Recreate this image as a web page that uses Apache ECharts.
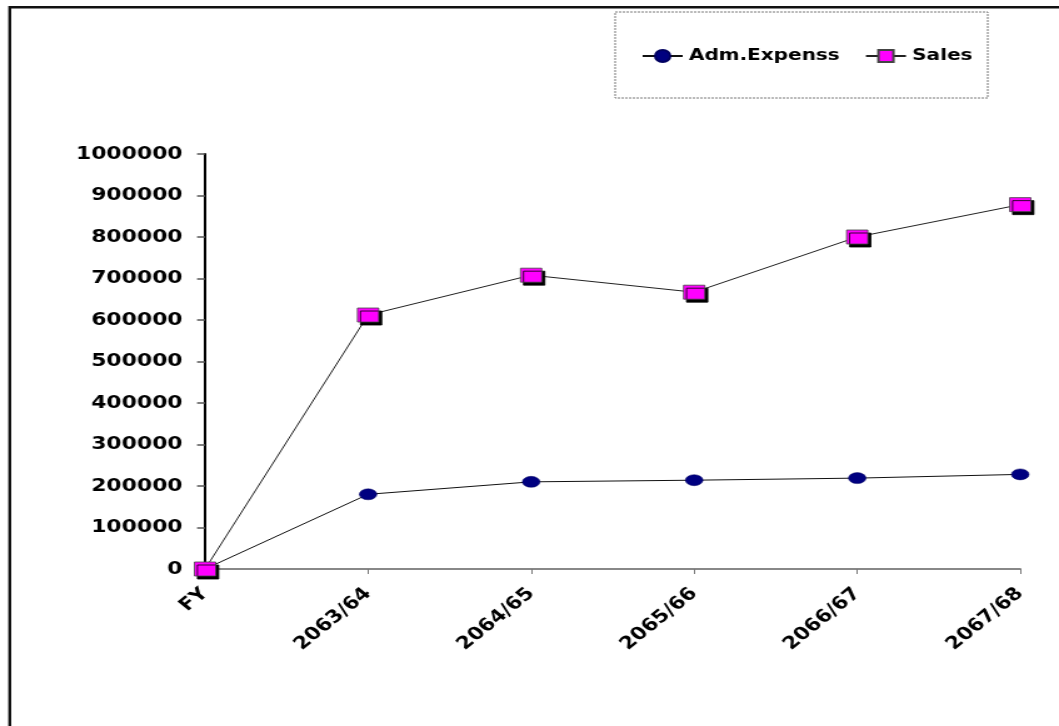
<!DOCTYPE html>
<html>
<head>
<meta charset="utf-8">
<script src="https://cdn.jsdelivr.net/npm/echarts@6/dist/echarts.min.js"></script>
<style>
  html, body { margin: 0; padding: 0; background: #fff; overflow: hidden; }
  #frame { position: relative; width: 1059px; height: 726px; overflow: hidden; background: #fff; }
  /* the chart is laid out narrower and widened horizontally */
  #chart { position: absolute; left: 0; top: 0; width: 847px; height: 726px;
           transform: scaleX(1.2503); transform-origin: 0 0; }
</style>
</head>
<body>
<div id="frame"><div id="chart"></div></div>
<script>
// Fiscal years on the x axis
const categories = ['FY', '2063/64', '2064/65', '2065/66', '2066/67', '2067/68'];
// Administrative expenses per year
const admExpenses = [0, 180000, 210000, 214000, 219000, 228000];
// Sales per year
const sales = [0, 612000, 708000, 667000, 800000, 878000];
// Value axis range
const yMin = 0, yMax = 1000000, yStep = 100000;

const chart = echarts.init(document.getElementById('chart'), null, { renderer: 'canvas' });
const labelFont = { fontFamily: 'DejaVu Sans', fontWeight: 'bold', color: '#000' };

chart.setOption({
  animation: false,
  backgroundColor: '#fff',
  graphic: [
    { type: 'rect', shape: { x: 7, y: 6, width: 900, height: 2.5 }, style: { fill: '#111' }, silent: true },
    { type: 'rect', shape: { x: 6.6, y: 6, width: 2.4, height: 740 }, style: { fill: '#111' }, silent: true },
    { type: 'rect', shape: { x: 492, y: 12, width: 298, height: 86 },
      style: { fill: 'none', stroke: '#777', lineWidth: 1, lineDash: [2, 1] }, silent: true }
  ],
  legend: {
    left: 508, top: 43,
    itemWidth: 32, itemHeight: 15, itemGap: 20,
    textStyle: Object.assign({ fontSize: 16 }, labelFont),
    data: ['Adm.Expenss', 'Sales']
  },
  grid: { left: 164, right: 31, top: 154, bottom: 157, containLabel: false },
  xAxis: {
    type: 'category',
    data: categories,
    boundaryGap: false,
    axisLine: { lineStyle: { color: '#888', width: 2 } },
    axisTick: { show: true, inside: false, length: 5, lineStyle: { color: '#777' }, alignWithLabel: true },
    axisLabel: Object.assign({ rotate: 45, interval: 0, margin: 22, fontSize: 17.5 }, labelFont),
    splitLine: { show: false }
  },
  yAxis: {
    type: 'value',
    min: yMin, max: yMax, interval: yStep,
    axisLine: { show: true, lineStyle: { color: '#000', width: 2 } },
    axisTick: { show: true, inside: false, length: 6.4, lineStyle: { color: '#555', width: 1.5 } },
    axisLabel: Object.assign({ margin: 18, fontSize: 17.5, formatter: v => String(v) }, labelFont),
    splitLine: { show: false }
  },
  series: [
    {
      name: 'Adm.Expenss',
      type: 'line',
      data: admExpenses,
      symbol: 'circle',
      symbolSize: [14, 11],
      lineStyle: { color: '#111', width: 1 },
      itemStyle: { color: '#000080', borderColor: '#000060', borderWidth: 0.5 },
      z: 3
    },
    {
      name: 'Sales',
      type: 'line',
      data: sales,
      symbol: 'rect',
      symbolSize: [17, 14],
      lineStyle: { color: '#222', width: 1 },
      itemStyle: { color: '#ff00ff', borderColor: '#444', borderWidth: 0.8,
                   shadowColor: '#000', shadowOffsetX: 2.4, shadowOffsetY: 3, shadowBlur: 0 },
      z: 4
    }
  ]
});
</script>
</body>
</html>
